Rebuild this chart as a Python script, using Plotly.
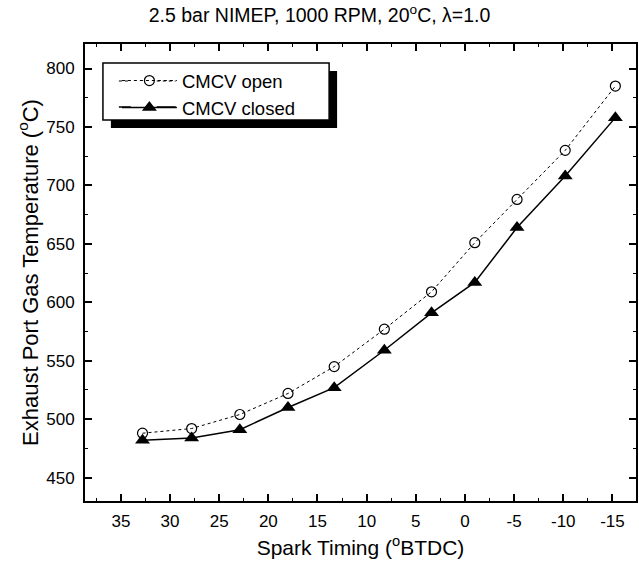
import plotly.graph_objects as go

# Data
spark_timing = [32.8, 27.8, 22.9, 18.0, 13.3, 8.2, 3.4, -1.0, -5.3, -10.2, -15.3]
temp_open = [488, 492, 504, 522, 545, 577, 609, 651, 688, 730, 785]
temp_closed = [482, 484, 491, 510, 527, 559, 591, 617, 664, 708, 758]

title_text = "2.5 bar NIMEP, 1000 RPM, 20<sup>o</sup>C, \u03bb=1.0"
x_title = "Spark Timing (<sup>o</sup>BTDC)"
y_title = "Exhaust Port Gas Temperature (<sup>o</sup>C)"
x_ticks = [35, 30, 25, 20, 15, 10, 5, 0, -5, -10, -15]
y_ticks = [450, 500, 550, 600, 650, 700, 750, 800]

W, H = 639, 571
L, R, T, B = 85, 1, 44, 70
PW, PH = W - L - R, H - T - B

def px(xp):
    return (xp - L) / PW

def py(yp):
    return 1 - (yp - T) / PH

FONT = "Liberation Sans, Arial, sans-serif"

fig = go.Figure()
fig.add_trace(go.Scatter(
    x=spark_timing, y=temp_open, name="CMCV open", mode="lines+markers",
    line=dict(color="black", width=1, dash="3px,3px"),
    marker=dict(symbol="circle-open", size=10, color="black", line=dict(width=1.2)),
))
fig.add_trace(go.Scatter(
    x=spark_timing, y=temp_closed, name="CMCV closed", mode="lines+markers",
    line=dict(color="black", width=1.5),
    marker=dict(symbol="triangle-up", size=13, color="black"),
))

axis_common = dict(
    showline=True, linecolor="black", linewidth=2, mirror="allticks",
    ticks="inside", ticklen=7, tickwidth=1.5, tickcolor="black",
    showgrid=False, zeroline=False,
    tickfont=dict(family=FONT, size=17, color="black"),
)

fig.update_xaxes(
    **axis_common,
    range=[38.65, -17.4], tickvals=x_ticks,
    ticktext=[str(v) for v in x_ticks],
    ticklabelstandoff=4,
    minor=dict(dtick=2.5, tick0=0, ticks="inside", ticklen=3, tickwidth=1.2, tickcolor="black"),
    title=dict(text=x_title, font=dict(family=FONT, size=21, color="black"), standoff=10),
)
fig.update_yaxes(
    **axis_common,
    range=[430, 821], tickvals=y_ticks,
    ticklabelstandoff=5,
    minor=dict(dtick=25, tick0=0, ticks="inside", ticklen=3, tickwidth=1.2, tickcolor="black"),
    title=dict(text=y_title, font=dict(family=FONT, size=22, color="black"), standoff=2),
)

# Legend box with drop shadow
bx0, bx1, by0, by1 = 103, 330, 63, 120
sh = 8
fig.add_shape(type="rect", xref="paper", yref="paper",
              x0=px(bx0 + sh), x1=px(bx1 + sh), y0=py(by1 + sh), y1=py(by0 + sh),
              fillcolor="black", line=dict(width=0), layer="above")
fig.add_shape(type="rect", xref="paper", yref="paper",
              x0=px(bx0), x1=px(bx1), y0=py(by1), y1=py(by0),
              fillcolor="white", line=dict(color="black", width=1.5), layer="above")

# longer legend key lines (the original's key samples are wider than plotly's)
key_rows = [(81, dict(color="black", width=1, dash="3px,3px")),
            (107, dict(color="black", width=1.5))]
for ky, kline in key_rows:
    for kx0, kx1 in [(119, 131), (157, 176)]:
        fig.add_shape(type="line", xref="paper", yref="paper",
                      x0=px(kx0), x1=px(kx1), y0=py(ky), y1=py(ky),
                      line=kline, layer="above")

fig.update_layout(
    width=W, height=H,
    margin=dict(l=L, r=R, t=T, b=B),
    paper_bgcolor="white", plot_bgcolor="white",
    title=dict(text=title_text, x=0.5, xanchor="center", y=1 - 15 / H, yanchor="middle",
               font=dict(family=FONT, size=19.5, color="black")),
    legend=dict(x=px(117), y=py(62), xanchor="left", yanchor="top",
                bgcolor="rgba(0,0,0,0)", borderwidth=0,
                font=dict(family=FONT, size=18.5, color="black"),
                itemwidth=55, tracegroupgap=0),
    showlegend=True,
)

fig.write_html("out.html")
